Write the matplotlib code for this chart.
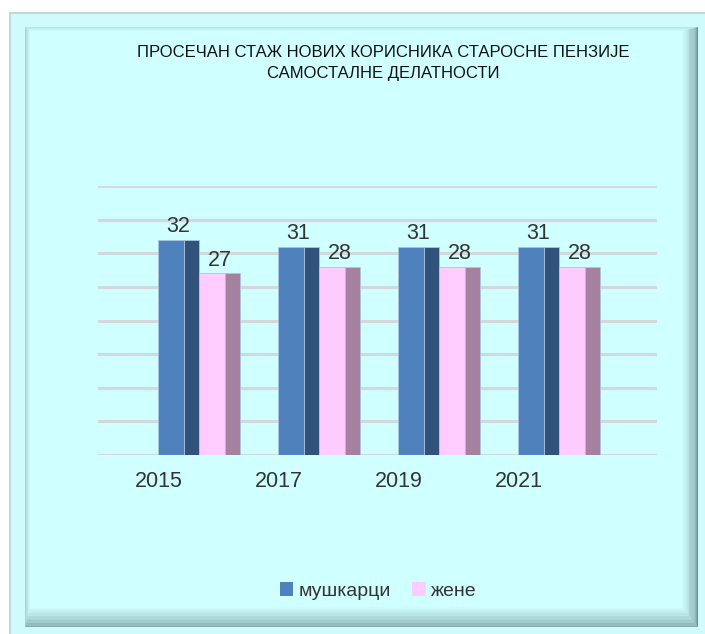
import matplotlib
matplotlib.use("Agg")
import matplotlib.pyplot as plt
from matplotlib.patches import Rectangle, Polygon, Patch
import numpy as np

years = ["2015", "2017", "2019", "2021"]
men = [32, 31, 31, 31]
women = [27, 28, 28, 28]
series_names = ["мушкарци", "жене"]
title = "ПРОСЕЧАН СТАЖ НОВИХ КОРИСНИКА СТАРОСНЕ ПЕНЗИЈЕ\nСАМОСТАЛНЕ ДЕЛАТНОСТИ"

W, H = 705, 634
fig = plt.figure(figsize=(W / 100, H / 100), dpi=100)
fig.patch.set_facecolor("white")

# background / frame in pixel coordinates
bg = fig.add_axes([0, 0, 1, 1])
bg.set_xlim(0, W)
bg.set_ylim(H, 0)
bg.axis("off")
bg.add_patch(Rectangle((10, 13), 720, 650, facecolor="#CFFBFB", edgecolor="#C4D6D6", lw=1.5))
L, T, R, B = 25, 27, 698, 627
bg.add_patch(Rectangle((L, T), R - L, B - T, facecolor="#CFFFFF", edgecolor="none"))

def mix(c1, c2, t):
    c1 = np.array(matplotlib.colors.to_rgb(c1))
    c2 = np.array(matplotlib.colors.to_rgb(c2))
    return tuple(c1 * (1 - t) + c2 * t)

wl, wt, wr, wb = 5, 4, 16, 20
n = 14
inner = "#CFFFFF"
for i in range(n):
    f0, f1 = i / n, (i + 1) / n
    t = (i + 0.5) / n
    # right
    bg.add_patch(Polygon([(R - wr * f0, T + wt * f0), (R - wr * f1, T + wt * f1),
                          (R - wr * f1, B - wb * f1), (R - wr * f0, B - wb * f0)],
                         closed=True, facecolor=mix("#5E7B7C", inner, t ** 0.6), edgecolor="none"))
    # bottom
    bg.add_patch(Polygon([(L + wl * f0, B - wb * f0), (L + wl * f1, B - wb * f1),
                          (R - wr * f1, B - wb * f1), (R - wr * f0, B - wb * f0)],
                         closed=True, facecolor=mix("#7FA3A3", inner, t ** 0.8), edgecolor="none"))
    # left
    bg.add_patch(Polygon([(L + wl * f0, T + wt * f0), (L + wl * f1, T + wt * f1),
                          (L + wl * f1, B - wb * f1), (L + wl * f0, B - wb * f0)],
                         closed=True, facecolor=mix("#8DBDBD", inner, t), edgecolor="none"))
    # top
    bg.add_patch(Polygon([(L + wl * f0, T + wt * f0), (L + wl * f1, T + wt * f1),
                          (R - wr * f1, T + wt * f1), (R - wr * f0, T + wt * f0)],
                         closed=True, facecolor=mix("#A9D9D9", inner, t), edgecolor="none"))

bg.text(383, 63, title, ha="center", va="center", fontsize=12,
        family=["Liberation Sans Narrow", "Liberation Sans", "DejaVu Sans"], color="#111111",
        linespacing=1.45)

# main axes
x0, x1, ytop, ybot = 98, 657, 186, 455
ax = fig.add_axes([x0 / W, (H - ybot) / H, (x1 - x0) / W, (ybot - ytop) / H])
ax.patch.set_alpha(0)
spacing = 120.0
xs = np.arange(len(years))
ax.set_xlim((x0 - 158) / spacing, (x1 - 158) / spacing)
ax.set_ylim(0, 40)
for y in np.arange(0, 41, 5):
    ax.axhline(y, color="#D3D9D9", lw=2.2, zorder=0)
for s in ax.spines.values():
    s.set_visible(False)
ax.set_xticks([])
ax.set_yticks([])

fw, sw = 26 / spacing, 15 / spacing
cols = [("#4F81BD", "#31527A"), ("#FFCCFF", "#A6809F")]
lblfont = dict(family=["Liberation Sans", "DejaVu Sans"], fontsize=15.5, color="#333333")
for k, vals in enumerate([men, women]):
    front, side = cols[k]
    for i, v in enumerate(vals):
        xl = xs[i] + k * (fw + sw)
        ax.bar(xl, v, width=fw, align="edge", color=front, edgecolor="#A9C4E0", lw=0.6, zorder=3)
        ax.bar(xl + fw, v, width=sw, align="edge", color=side, edgecolor="#A9C4E0", lw=0.6, zorder=3)
        ax.text(xl + (fw + sw) / 2, v + 0.4, f"{v:g}", ha="center", va="bottom", zorder=4, **lblfont)

for i, yr in enumerate(years):
    ax.text(xs[i] + 0.01, -3.9, yr, ha="center", va="center", **lblfont)

handles = [Patch(facecolor=cols[0][0], edgecolor="none"), Patch(facecolor=cols[1][0], edgecolor="none")]
leg = fig.legend(handles, series_names, loc="center", bbox_to_anchor=(378 / W, 1 - 591 / H), ncol=2,
                 frameon=False, handlelength=0.7, handleheight=0.7, handletextpad=0.25,
                 columnspacing=1.1, prop=dict(family=["Liberation Sans", "DejaVu Sans"], size=14))
for t in leg.get_texts():
    t.set_color("#333333")

fig.savefig("out.png", dpi=100)
